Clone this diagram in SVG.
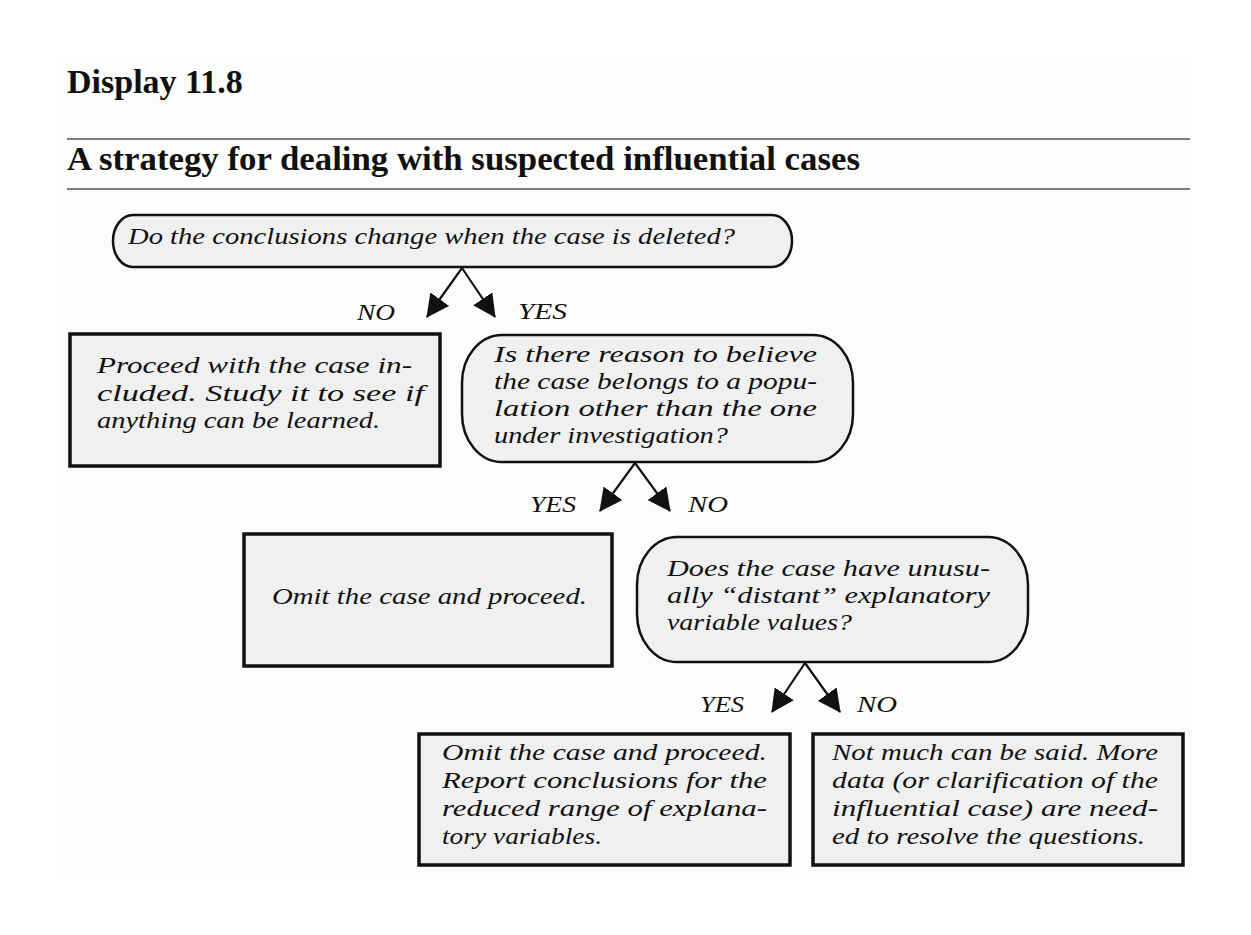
<svg xmlns="http://www.w3.org/2000/svg" width="1251" height="935" viewBox="0 0 1251 935">
<style>
.bg{fill:#fcfcfa}
.rule{stroke:#555;stroke-width:1.6}
.h{font-family:"Liberation Serif","Times New Roman",serif;font-weight:bold;fill:#111}
.t{font-family:"Liberation Serif","Times New Roman",serif;font-style:italic;font-size:24px;fill:#111}
.rect{fill:#eff0ef;stroke:#111;stroke-width:3.5}
.round{fill:#eff0ef;stroke:#111;stroke-width:2.5}
.conn{stroke:#111;stroke-width:2.2;fill:none;marker-end:url(#ah)}
</style>
<defs>
<marker id="ah" markerUnits="userSpaceOnUse" markerWidth="23" markerHeight="23" viewBox="0 0 22 22" refX="21" refY="11" orient="auto">
<path d="M0,0 L22,11 L0,22 z" fill="#111"/>
</marker>
</defs>
<rect width="1251" height="935" fill="#ffffff"/>
<rect class="bg" x="57" y="55" width="1136" height="824"/>
<g id="header">
<text class="h" x="67" y="93" font-size="34">Display 11.8</text>
<line class="rule" x1="67" y1="139" x2="1190" y2="139"/>
<text class="h" x="67" y="170" font-size="33" textLength="793" lengthAdjust="spacingAndGlyphs">A strategy for dealing with suspected influential cases</text>
<line class="rule" x1="67" y1="189" x2="1190" y2="189"/>
</g>
<g id="q1">
<rect class="round" x="113" y="215" width="679" height="52" rx="20" ry="26"/>
<text class="t" x="128" y="244" textLength="607" lengthAdjust="spacingAndGlyphs">Do the conclusions change when the case is deleted?</text>
</g>
<g id="a1">
<rect class="rect" x="70" y="334" width="370" height="132"/>
<text class="t" x="97" y="373" textLength="315" lengthAdjust="spacingAndGlyphs">Proceed with the case in-</text>
<text class="t" x="97" y="401" textLength="327" lengthAdjust="spacingAndGlyphs">cluded. Study it to see if</text>
<text class="t" x="97" y="428" textLength="283" lengthAdjust="spacingAndGlyphs">anything can be learned.</text>
</g>
<g id="q2">
<rect class="round" x="462" y="335" width="391" height="127" rx="40" ry="48"/>
<text class="t" x="494" y="362" textLength="323" lengthAdjust="spacingAndGlyphs">Is there reason to believe</text>
<text class="t" x="494" y="389" textLength="323" lengthAdjust="spacingAndGlyphs">the case belongs to a popu-</text>
<text class="t" x="494" y="416" textLength="323" lengthAdjust="spacingAndGlyphs">lation other than the one</text>
<text class="t" x="494" y="443" textLength="234" lengthAdjust="spacingAndGlyphs">under investigation?</text>
</g>
<g id="a2">
<rect class="rect" x="244" y="534" width="368" height="132"/>
<text class="t" x="272" y="604" textLength="315" lengthAdjust="spacingAndGlyphs">Omit the case and proceed.</text>
</g>
<g id="q3">
<rect class="round" x="637" y="537" width="391" height="125" rx="40" ry="48"/>
<text class="t" x="667" y="576" textLength="323" lengthAdjust="spacingAndGlyphs">Does the case have unusu-</text>
<text class="t" x="667" y="603" textLength="323" lengthAdjust="spacingAndGlyphs">ally “distant” explanatory</text>
<text class="t" x="667" y="630" textLength="185" lengthAdjust="spacingAndGlyphs">variable values?</text>
</g>
<g id="a3">
<rect class="rect" x="419" y="734" width="371" height="131"/>
<text class="t" x="442" y="760" textLength="325" lengthAdjust="spacingAndGlyphs">Omit the case and proceed.</text>
<text class="t" x="442" y="788" textLength="325" lengthAdjust="spacingAndGlyphs">Report conclusions for the</text>
<text class="t" x="442" y="816" textLength="325" lengthAdjust="spacingAndGlyphs">reduced range of explana-</text>
<text class="t" x="442" y="844" textLength="160" lengthAdjust="spacingAndGlyphs">tory variables.</text>
</g>
<g id="a4">
<rect class="rect" x="813" y="734" width="370" height="131"/>
<text class="t" x="832" y="760" textLength="326" lengthAdjust="spacingAndGlyphs">Not much can be said. More</text>
<text class="t" x="832" y="788" textLength="326" lengthAdjust="spacingAndGlyphs">data (or clarification of the</text>
<text class="t" x="832" y="816" textLength="326" lengthAdjust="spacingAndGlyphs">influential case) are need-</text>
<text class="t" x="832" y="844" textLength="313" lengthAdjust="spacingAndGlyphs">ed to resolve the questions.</text>
</g>
<g id="connectors">
<line class="conn" x1="462" y1="268" x2="427" y2="317"/>
<line class="conn" x1="462" y1="268" x2="495" y2="317"/>
<line class="conn" x1="635" y1="463" x2="600" y2="511"/>
<line class="conn" x1="635" y1="463" x2="670" y2="511"/>
<line class="conn" x1="805" y1="663" x2="772" y2="712"/>
<line class="conn" x1="805" y1="663" x2="840" y2="712"/>
<text class="t" x="357" y="320" textLength="38" lengthAdjust="spacingAndGlyphs">NO</text>
<text class="t" x="518" y="319" textLength="49" lengthAdjust="spacingAndGlyphs">YES</text>
<text class="t" x="530" y="512" textLength="46" lengthAdjust="spacingAndGlyphs">YES</text>
<text class="t" x="688" y="512" textLength="40" lengthAdjust="spacingAndGlyphs">NO</text>
<text class="t" x="700" y="712" textLength="44" lengthAdjust="spacingAndGlyphs">YES</text>
<text class="t" x="857" y="712" textLength="40" lengthAdjust="spacingAndGlyphs">NO</text>
</g>
</svg>
